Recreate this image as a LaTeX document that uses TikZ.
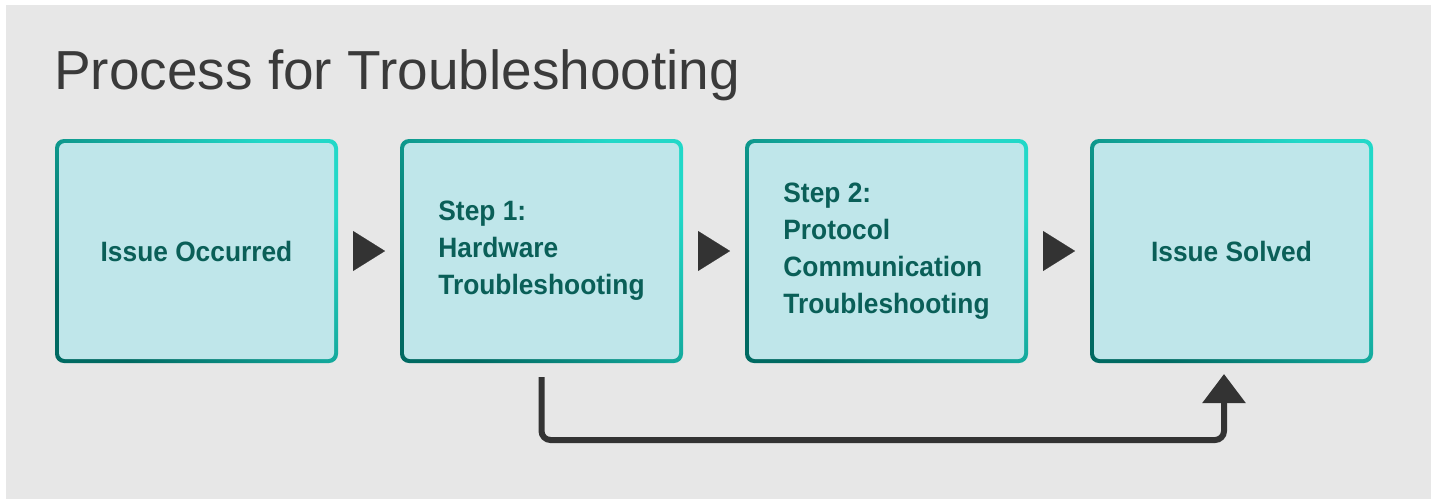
\documentclass[tikz,border=0pt]{standalone}
\usepackage{fontspec}
\usetikzlibrary{arrows.meta,calc}
\setmainfont{Liberation Sans}
\newfontfamily\boxfont[FakeStretch=0.94]{Liberation Sans}
\definecolor{bggray}{HTML}{E7E7E7}
\definecolor{tealdark}{HTML}{006A62}
\definecolor{teallight}{HTML}{22D8C8}
\definecolor{boxfill}{HTML}{BFE6EA}
\definecolor{boxtext}{HTML}{0A5F58}
\definecolor{titlegray}{HTML}{3A3A3A}
\definecolor{arrowgray}{HTML}{333333}
\tikzset{
  stepbox/.style={minimum width=283pt, minimum height=224pt, inner sep=0pt, outer sep=0pt,
    rounded corners=9pt, top color=teallight, bottom color=tealdark, shading angle=-45,
    path picture={\fill[boxfill, rounded corners=6pt]
      ($(path picture bounding box.south west)+(4,-4)$) rectangle
      ($(path picture bounding box.north east)+(-4,4)$);},
    font={\boxfont\bfseries\fontsize{28}{37}\selectfont}, text=boxtext, align=left},
  flowtip/.style={draw=arrowgray, line width=0.1pt, shorten <=15pt, shorten >=15pt,
    -{Triangle[length=32pt,width=40pt]}},
  conn/.style={draw=arrowgray, line width=6pt, rounded corners=9pt,
    -{Triangle[length=29pt,width=42pt]}}
}
\begin{document}
\begin{tikzpicture}[x=1pt,y=-1pt]
\useasboundingbox (0,0) rectangle (1431,499);
\fill[white] (0,0) rectangle (1431,499);
\fill[bggray] (6,5) rectangle (1431,499);
\node[anchor=base west, inner sep=0pt, text=titlegray, font=\fontsize{55}{62}\selectfont] (title) at (54,89) {Process for Troubleshooting};
\node[stepbox] (b1) at (196.5,251) {Issue Occurred};
\node[stepbox] (b2) at (541.5,251) {Step 1:\\Hardware\\Troubleshooting};
\node[stepbox] (b3) at (886.5,251) {Step 2:\\Protocol\\Communication\\Troubleshooting};
\node[stepbox] (b4) at (1231.5,251) {Issue Solved};
\draw[flowtip] (b1.east) -- (b2.west);
\draw[flowtip] (b2.east) -- (b3.west);
\draw[flowtip] (b3.east) -- (b4.west);
\coordinate (cstart) at ($(b2.south)+(0,14)$);
\coordinate (cend) at ($(b4.south)+(-7.5,11)$);
\draw[conn] (cstart) -- ++(0,63) -| (cend);
\end{tikzpicture}
\end{document}
